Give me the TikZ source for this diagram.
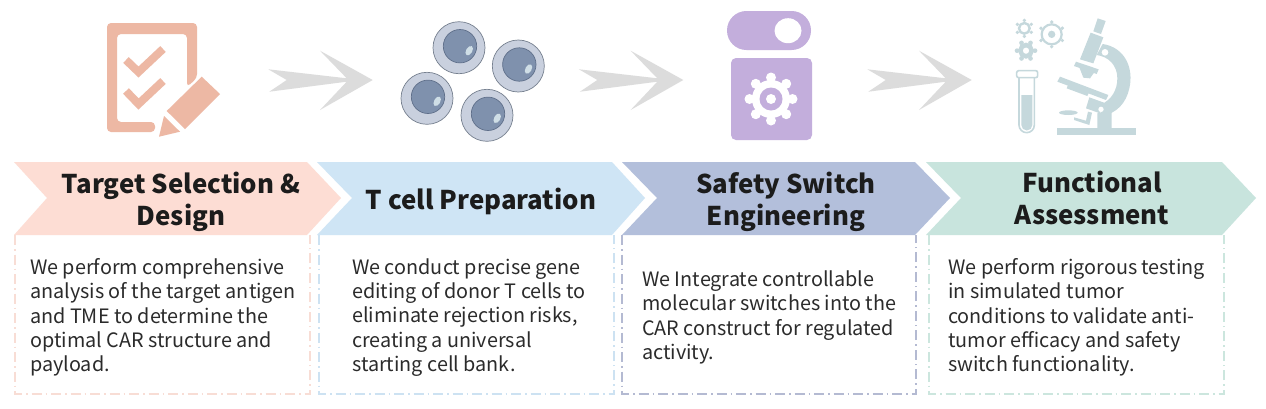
\documentclass[tikz,border=0pt]{standalone}
\usepackage{fontspec}
\setmainfont{Noto Sans CJK SC}
\definecolor{ttl}{HTML}{1C1C1C}
\definecolor{bdy}{HTML}{2B2B2B}
\definecolor{cA}{HTML}{FDDDD4}
\definecolor{cB}{HTML}{CFE5F5}
\definecolor{cC}{HTML}{B3BFDB}
\definecolor{cD}{HTML}{C8E4DD}
\definecolor{dA}{HTML}{F8DDD5}
\definecolor{dB}{HTML}{CDE2F2}
\definecolor{dC}{HTML}{B4BAD2}
\definecolor{dD}{HTML}{CCE6DE}
\definecolor{icA}{HTML}{EDB8A4}
\definecolor{icC}{HTML}{C3AEDC}
\definecolor{icD}{HTML}{C5D8DC}
\definecolor{gry}{HTML}{DCDCDC}
\definecolor{cellout}{HTML}{C9D0DE}
\definecolor{celledge}{HTML}{76808F}
\definecolor{nuc}{HTML}{7F91AD}
\definecolor{nucedge}{HTML}{5F6F8A}
\definecolor{shine}{HTML}{CFDEE6}
\tikzset{
  titletext/.style={font=\fontsize{25.8}{32}\selectfont\bfseries,text=ttl,align=center,inner sep=0pt},
  bodytext/.style={font=\fontsize{19.8}{24.3}\selectfont,text=bdy,align=left,anchor=west,inner sep=0pt},
  dashbox/.style={line width=1.2pt,dash pattern=on 10pt off 4pt on 1.5pt off 4pt},
  grayarrow/.style={fill=gry,draw=none}
}
\newcommand{\bigarrow}[1]{%
  \fill[grayarrow,shift={(#1,0)}] (268.3,69.3) -- (346.7,78.3) -- (320,50.7) -- (372.7,80) -- (320,110) -- (346.7,81.7) -- (269.3,91.7) -- (286.7,80) -- cycle;}
\newcommand{\cellicon}[2]{%
  \begin{scope}[shift={(#1,#2)}]
    \draw[fill=cellout,draw=celledge,line width=.7pt] (0,0) circle[radius=26];
    \draw[fill=nuc,draw=nucedge,line width=.7pt] (1,-1.5) circle[radius=16.7];
    \fill[shine,shift={(10.2,3)},rotate=-30] (0,0) ellipse[x radius=3.1,y radius=5.2];
  \end{scope}}
\begin{document}
\begin{tikzpicture}[x=1pt,y=-1pt]
\useasboundingbox (0,0) rectangle (1266,408);
\fill[white] (0,0) rectangle (1266,408);
% icon 1
\fill[icA,rounded corners=4pt] (107,23) -- (197,23) -- (197,78) -- (187,87) -- (187,34) -- (117,34) -- (117,122) -- (155,122) -- (155,132) -- (107,132) -- cycle;
\fill[icA] (201.7,76.7) -- (220,94) -- (185,129) -- (166.7,111) -- cycle;
\fill[icA] (159,136.7) -- (180,131.7) -- (164,116) -- cycle;
\draw[icA,line width=8pt] (126,60) -- (138.5,72) -- (163,49);
\draw[icA,line width=8pt] (126,91) -- (138.5,104) -- (163,81);
\bigarrow{0}
% cells
\cellicon{459}{47.7}
\cellicon{518.3}{66}
\cellicon{427}{98.3}
\cellicon{487}{115.3}
\bigarrow{310.6}
% switch
\fill[icC,rounded corners=19.4pt] (727,11) rectangle (811,50);
\fill[white] (788,30.7) ellipse[x radius=13.5,y radius=12.5];
\fill[icC,rounded corners=5pt] (731,58) rectangle (812,140);
\fill[white] (771,99) circle[radius=19];
\foreach \a in {0,45,...,315}{\fill[white] (771,99) ++(\a:21.5) circle[radius=5];}
\fill[icC] (771,99) circle[radius=11.5];
\fill[white] (771,99) circle[radius=5];
\bigarrow{599}
% assay icon
\begin{scope}[shift={(1000,10)},scale=1/3]
  \draw[icD,line width=2.4pt] (73,55) circle[radius=16];
  \foreach \a in {30,90,...,330}{\fill[icD] (73,55) ++(\a:24) circle[radius=5.5];}
  \draw[icD,line width=2.2pt] (155,73) circle[radius=30];
  \fill[icD] (155,73) circle[radius=11];
  \foreach \a in {30,90,...,330}{\fill[icD] (155,73) ++(\a:37) circle[radius=5.5];}
  \draw[icD,line width=4.5pt] (78,122) circle[radius=17];
  \foreach \a in {0,60,...,300}{\fill[icD] (78,122) ++(\a:27) circle[radius=7];}
  \draw[icD,line width=1.6pt,rounded corners=2pt] (50,182) rectangle (113,203);
  \draw[icD,line width=1.6pt] (57,203) -- (57,345) arc[start angle=180,end angle=0,radius=23] -- (103,203);
  \fill[icD] (64,255) -- (97,255) -- (97,345) arc[start angle=0,end angle=180,radius=16.5] -- cycle;
  % microscope
  \fill[icD] (170,355) rectangle (407,375);
  \fill[icD] (293,25) -- (317,33) -- (303,72) -- (280,64) -- cycle;
  \fill[icD] (272,68) -- (310,82) -- (280,160) -- (240,148) -- cycle;
  \fill[icD] (228,155) -- (296,178) -- (290,192) -- (222,168) -- cycle;
  \fill[icD] (238,172) -- (282,188) -- (270,205) -- (250,203) -- cycle;
  \fill[icD] (180,200) -- (325,255) -- (318,270) -- (172,215) -- cycle;
  \fill[icD] (205,222) -- (268,245) -- (262,258) -- (200,235) -- cycle;
  \fill[icD] (268,262) -- (312,278) -- (300,310) -- (258,295) -- cycle;
  \fill[icD] (205,308) ellipse[x radius=28,y radius=7];
  \fill[icD] (222,322) -- (258,332) -- (264,305) -- (276,308) -- (268,345) -- (222,330) -- cycle;
  \fill[icD] (292,310) -- (335,300) -- (335,355) -- (292,355) -- cycle;
  \fill[icD] (308,102) .. controls (375,112) and (402,175) .. (388,235) .. controls (378,280) and (350,310) .. (305,318)
     -- (300,285) .. controls (335,270) and (352,240) .. (352,205) .. controls (352,165) and (325,140) .. (290,135) -- cycle;
  \fill[white] (315,127) circle[radius=10];
  \fill[white] (303,298) circle[radius=8];
\end{scope}
% boxes (open at the top, under the chevrons)
\draw[dA,dashbox] (15,235) -- (15,394) -- (310,394) -- (310,235);
\draw[dB,dashbox] (319,235) -- (319,394) -- (614,394) -- (614,235);
\draw[dC,dashbox] (622,235) -- (622,394) -- (916,394) -- (916,235);
\draw[dD,dashbox] (929,235) -- (929,394) -- (1224,394) -- (1224,235);
% chevrons
\fill[cA] (14,162) -- (307,162) -- (341,198) -- (307,235) -- (14,235) -- (47,198) -- cycle;
\fill[cB] (317,162) -- (612,162) -- (645,198) -- (612,235) -- (317,235) -- (352,198) -- cycle;
\fill[cC] (622,162) -- (915,162) -- (950,198) -- (915,235) -- (622,235) -- (657,198) -- cycle;
\fill[cD] (926,162) -- (1222,162) -- (1256,198) -- (1222,235) -- (926,235) -- (961,198) -- cycle;
% titles
\node[titletext] (t1) at (181,202) {Target Selection \&\\Design};
\node[titletext] (t2) at (481,201) {T cell Preparation};
\node[titletext] (t3) at (786,202) {Safety Switch\\Engineering};
\node[titletext] (t4) at (1092,198) {Functional\\Assessment};
% body
\node[bodytext] (b1) at (30,317.5) {We perform comprehensive\\analysis of the target antigen\\and TME to determine the\\optimal CAR structure and\\payload.};
\node[bodytext] (b2) at (352,317.5) {We conduct precise gene\\editing of donor T cells to\\eliminate rejection risks,\\creating a universal\\starting cell bank.};
\node[bodytext] (b3) at (642,317.5) {We Integrate controllable\\molecular switches into the\\CAR construct for regulated\\activity.};
\node[bodytext] (b4) at (948,317.5) {We perform rigorous testing\\in simulated tumor\\conditions to validate anti-\\tumor efficacy and safety\\switch functionality.};
\end{tikzpicture}
\end{document}
